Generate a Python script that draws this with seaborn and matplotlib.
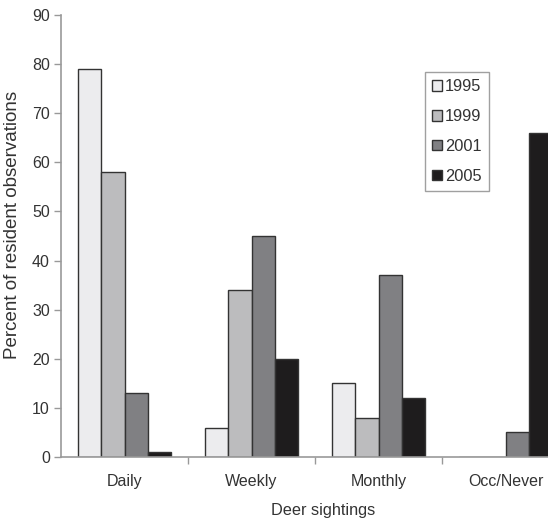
import pandas as pd
import numpy as np
import matplotlib.pyplot as plt
import seaborn as sns

# Données
categories = ["Daily", "Weekly", "Monthly", "Occ/Never"]
annees = ["1995", "1999", "2001", "2005"]
v1995 = [79, 6, 15, 0]
v1999 = [58, 34, 8, 0]
v2001 = [13, 45, 37, 5]
v2005 = [1, 20, 12, 66]
couleurs = ["#ececee", "#bcbcbe", "#7f8083", "#1e1c1d"]

donnees = pd.DataFrame({
    "categorie": categories * 4,
    "annee": [a for a in annees for _ in categories],
    "pourcent": v1995 + v1999 + v2001 + v2005,
})

sns.set_style("white")
plt.rcParams["font.family"] = ["Liberation Sans", "DejaVu Sans"]

fig = plt.figure(figsize=(5.48, 5.23), dpi=100)
ax = fig.add_axes([61 / 548, 66 / 523, 508 / 548, 442 / 523])

sns.barplot(data=donnees, x="categorie", y="pourcent", hue="annee",
            order=categories, hue_order=annees, palette=couleurs,
            width=0.73, edgecolor="#333333", linewidth=1, ax=ax)

ax.set_xlim(-0.5, 3.5)
ax.set_ylim(0, 90)
ax.set_yticks(range(0, 91, 10))
ax.set_xticks(range(4))
ax.set_xticklabels(categories)
ax.set_xticks([0.5, 1.5, 2.5], minor=True)
ax.tick_params(axis="x", which="major", length=0, pad=12, labelsize=11.5, colors="#333333")
ax.tick_params(axis="x", which="minor", length=5, width=1, color="#999999", direction="out", bottom=True)
ax.tick_params(axis="y", length=5, width=1, color="#999999", direction="out", left=True,
               labelsize=11.5, labelcolor="#333333", pad=3)

for cote in ["top", "right"]:
    ax.spines[cote].set_visible(False)
for cote in ["left", "bottom"]:
    ax.spines[cote].set_color("#999999")
    ax.spines[cote].set_linewidth(1.2)

ax.set_xlabel("Deer sightings", fontsize=11.7, color="#333333")
ax.set_ylabel("Percent of resident observations", fontsize=13.5, color="#333333")
ax.xaxis.set_label_coords((323 - 61) / 508, -(503 - 457) / 442)
ax.yaxis.set_label_coords(-(61 - 21) / 508, 0.525)

ax.legend_.remove()
leg = fig.legend(loc="upper left", bbox_to_anchor=(425 / 548, 1 - 72 / 523),
                 handles=ax.get_legend_handles_labels()[0], labels=annees,
                 frameon=True, fancybox=False, edgecolor="#888888", fontsize=11.8,
                 handlelength=0.6, handleheight=0.6, handletextpad=0.15,
                 labelspacing=0.9, borderpad=0.45, borderaxespad=0)
leg.get_frame().set_linewidth(1)
for t in leg.get_texts():
    t.set_color("#333333")

plt.savefig("out.png", dpi=100)
